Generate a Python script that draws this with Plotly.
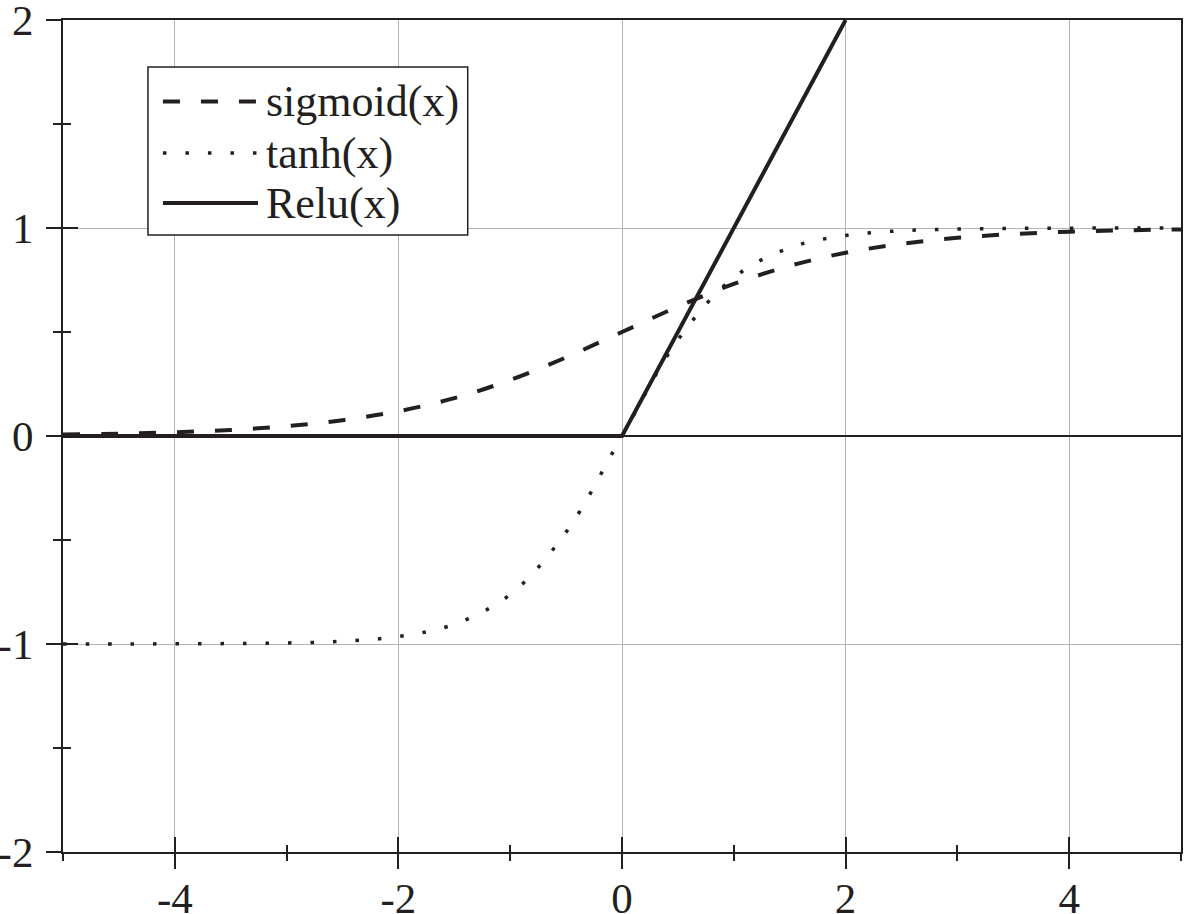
import plotly.graph_objects as go

# values
x_curve = [-5, -4.5, -4, -3.5, -3, -2.5, -2, -1.5, -1, -0.5, 0,
           0.5, 1, 1.5, 2, 2.5, 3, 3.5, 4, 4.5, 5]
sigmoid_y = [0.007, 0.011, 0.018, 0.029, 0.047, 0.076, 0.119, 0.182, 0.269, 0.378, 0.5,
             0.622, 0.731, 0.818, 0.881, 0.924, 0.953, 0.971, 0.982, 0.989, 0.993]
tanh_y = [-1.0, -1.0, -0.999, -0.998, -0.995, -0.987, -0.964, -0.905, -0.762, -0.462, 0.0,
          0.462, 0.762, 0.905, 0.964, 0.987, 0.995, 0.998, 0.999, 1.0, 1.0]
relu_x = [-5, 0, 2]
relu_y = [0, 0, 2]

legend_names = ["sigmoid(x)", "tanh(x)", "Relu(x)"]
x_ticks = [-4, -2, 0, 2, 4]
x_ticktext = ["-4", "-2", "0", "2", "4"]
y_ticks = [-2, -1, 0, 1, 2]
y_ticktext = ["-2", "-1", "0", "1", "2"]

INK = "#231f20"
GRID = "#b4b4b4"
FONT = "Liberation Serif"
W, H = 1184, 914

fig = go.Figure()
fig.add_trace(go.Scatter(x=x_curve, y=sigmoid_y, mode="lines", line_shape="spline",
                         line=dict(color=INK, width=4, dash="17px,21px"),
                         name=legend_names[0], showlegend=False))
fig.add_trace(go.Scatter(x=x_curve, y=tanh_y, mode="lines", line_shape="spline",
                         line=dict(color=INK, width=3.5, dash="3.5px,19px"),
                         name=legend_names[1], showlegend=False))
fig.add_trace(go.Scatter(x=relu_x, y=relu_y, mode="lines",
                         line=dict(color=INK, width=4),
                         name=legend_names[2], showlegend=False))
# empty trace so the overlay axes (inner tick halves) get drawn
fig.add_trace(go.Scatter(x=[], y=[], xaxis="x2", yaxis="y2", showlegend=False, hoverinfo="skip"))

# hand-made legend box so the sample lines can be long like the original
styles = [dict(width=4, dash="17px,21px"), dict(width=3.5, dash="3.5px,19px"), dict(width=4, dash="solid")]
rows_y = [0.902, 0.840, 0.780]
shapes = [dict(type="rect", xref="paper", yref="paper", x0=0.076, x1=0.362, y0=0.7416, y1=0.9435,
               line=dict(color=INK, width=1.5), fillcolor="white", layer="above")]
annotations = []
for name, st, yy in zip(legend_names, styles, rows_y):
    shapes.append(dict(type="line", xref="paper", yref="paper", x0=0.0894, x1=0.1744, y0=yy, y1=yy,
                       line=dict(color=INK, **st), layer="above"))
    annotations.append(dict(text=name, xref="paper", yref="paper", x=0.1800, y=yy,
                            xanchor="left", yanchor="middle", showarrow=False,
                            font=dict(family=FONT, size=44, color=INK)))

axis_common = dict(showline=True, linecolor=INK, linewidth=2, tickcolor=INK, tickwidth=2,
                   ticklen=15, automargin=False)

fig.update_layout(
    width=W, height=H,
    margin=dict(l=63, r=3, t=20, b=62),
    plot_bgcolor="white", paper_bgcolor="white",
    font=dict(family=FONT, size=43, color=INK),
    showlegend=False,
    shapes=shapes,
    annotations=annotations,
    xaxis=dict(range=[-5, 5], tickvals=x_ticks, ticktext=x_ticktext, ticks="outside", mirror=True,
               showgrid=True, gridcolor=GRID, gridwidth=1, zeroline=False,
               minor=dict(dtick=1, tick0=1, ticks="outside", ticklen=7, tickcolor=INK, tickwidth=2, showgrid=False),
               tickfont=dict(family=FONT, size=43), ticklabeloverflow="allow", ticklabelstandoff=-8,
               **axis_common),
    yaxis=dict(range=[-2, 2], tickvals=y_ticks, ticktext=y_ticktext, ticks="outside", mirror=True,
               showgrid=True, gridcolor=GRID, gridwidth=1,
               zeroline=True, zerolinecolor=INK, zerolinewidth=2,
               minor=dict(dtick=0.5, tick0=0, ticks="outside", ticklen=8, tickcolor=INK, tickwidth=2, showgrid=False),
               tickfont=dict(family=FONT, size=43), ticklabeloverflow="allow", ticklabelstandoff=4,
               **axis_common),
    # overlay axes carrying the inner half of the crossing ticks
    xaxis2=dict(range=[-5, 5], tickvals=x_ticks, ticks="inside", overlaying="x", anchor="y2", side="bottom",
                showticklabels=False, showgrid=False, zeroline=False,
                minor=dict(dtick=1, tick0=1, ticks="inside", ticklen=7, tickcolor=INK, tickwidth=2),
                **axis_common),
    yaxis2=dict(range=[-2, 2], tickvals=y_ticks, ticks="inside", overlaying="y", anchor="x2", side="left",
                showticklabels=False, showgrid=False, zeroline=False,
                minor=dict(dtick=0.5, tick0=0, ticks="inside", ticklen=8, tickcolor=INK, tickwidth=2),
                **axis_common),
)

# drop the browser's default page margin so the figure sits at the window corner
fig.write_html("out.html", config={"displayModeBar": False},
               post_script="document.body.style.margin='0';")
